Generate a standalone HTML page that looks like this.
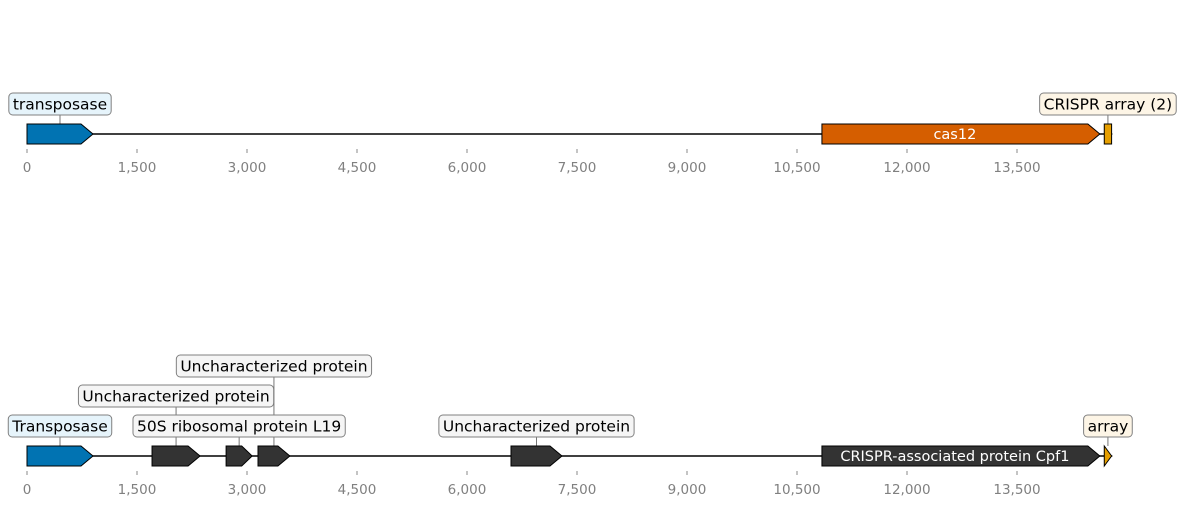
<!DOCTYPE html>
<html><head><meta charset="utf-8"><style>
body{margin:0;background:#fff}
svg{display:block;font-family:"DejaVu Sans","Liberation Sans",sans-serif}
</style></head><body>
<svg id="c" width="1181" height="505"></svg>
<script>
const ticks=[0,1500,3000,4500,6000,7500,9000,10500,12000,13500];
const tickLabels=["0","1,500","3,000","4,500","6,000","7,500","9,000","10,500","12,000","13,500"];
const trackLen=[14800,14800];
const featStart=[0,10840,14690,0,1705,2715,3150,6600,10840,14690];
const featEnd=[900,14630,14790,900,2360,3070,3585,7295,14630,14790];
const featTrack=[0,0,0,1,1,1,1,1,1,1];
const featColor=["#0173b2","#d55e00","#e69f00","#0173b2","#333333","#333333","#333333","#333333","#333333","#e69f00"];
const featInline=["","cas12","","","","","","","CRISPR-associated protein Cpf1",""];
const featBox=["transposase","","CRISPR array (2)","Transposase","Uncharacterized protein","50S ribosomal protein L19","Uncharacterized protein","Uncharacterized protein","","array"];
const featLevel=[0,0,0,0,1,0,2,0,0,0];
const featFill=["#e6f4fb","","#fdf5e6","#e6f4fb","#f5f5f5","#f5f5f5","#f5f5f5","#f5f5f5","","#fdf5e6"];
const featShape=["arrow","arrow","rect","arrow","arrow","arrow","arrow","arrow","arrow","tri"];

const NS="http://www.w3.org/2000/svg";
const svg=document.getElementById('c');
const trackY=[134,456];
const x=v=>27+v*(990/13500);
function mk(tag,attrs,parent){const e=document.createElementNS(NS,tag);for(const k in attrs)e.setAttribute(k,attrs[k]);(parent||svg).appendChild(e);return e;}

for(let t=0;t<2;t++){
  const y=trackY[t];
  const g=mk('g',{});
  
  
  const ln=mk('line',{x1:x(0),x2:x(trackLen[t]),y1:y,y2:y,stroke:'#000','stroke-width':1.5},g);
  
  
  ticks.forEach((v,i)=>{
    const tk=mk('line',{x1:x(v),x2:x(v),y1:y+15,y2:y+19,stroke:'#888','stroke-width':1},g);
    
    
    const tl=mk('text',{x:x(v),y:y+38,'text-anchor':'middle','font-size':13.5,fill:'#808080'},g);
    tl.textContent=tickLabels[i];
    
    
  });
}
const boxLayer=mk('g',{});
const featLayer=mk('g',{});
featStart.forEach((s,i)=>{
  const y=trackY[featTrack[i]];
  const x1=x(s),x2=x(featEnd[i]),h=10;
  let d;
  if(featShape[i]==='arrow'){const hd=Math.min(12,(x2-x1)*0.4);d=`M${x1},${y-h}L${x2-hd},${y-h}L${x2},${y}L${x2-hd},${y+h}L${x1},${y+h}Z`;}
  else if(featShape[i]==='tri'){d=`M${x1},${y-h}L${x2},${y}L${x1},${y+h}Z`;}
  else d=`M${x1},${y-h}L${x2},${y-h}L${x2},${y+h}L${x1},${y+h}Z`;
  const p=mk('path',{d:d,fill:featColor[i],stroke:'#000','stroke-width':1},featLayer);
  
  
  if(featInline[i]){
    const t=mk('text',{x:(x1+x2)/2-6,y:y+5,'text-anchor':'middle','font-size':14.5,fill:'#fff'},featLayer);
    t.textContent=featInline[i];
    
    
  }
  if(featBox[i]){
    const cx=(x1+x2)/2;
    const by=y-41-30*featLevel[i];
    const c=mk('line',{x1:cx,x2:cx,y1:by+22,y2:y-h,stroke:'#555','stroke-width':0.8},boxLayer);
    
    
  }
});
featStart.forEach((s,i)=>{
  if(!featBox[i])return;
  const y=trackY[featTrack[i]];
  const cx=(x(s)+x(featEnd[i]))/2;
  const by=y-41-30*featLevel[i];
  const r=mk('rect',{y:by,height:22,rx:4,fill:featFill[i],stroke:'#808080','stroke-width':1},boxLayer);
  
  
  const t=mk('text',{x:cx,y:by+16.5,'text-anchor':'middle','font-size':15.5,fill:'#000'},boxLayer);
  t.textContent=featBox[i];
  
  
  const w=t.getComputedTextLength()+8;
  r.setAttribute('x',cx-w/2);r.setAttribute('width',w);
});
</script>
</body></html>
